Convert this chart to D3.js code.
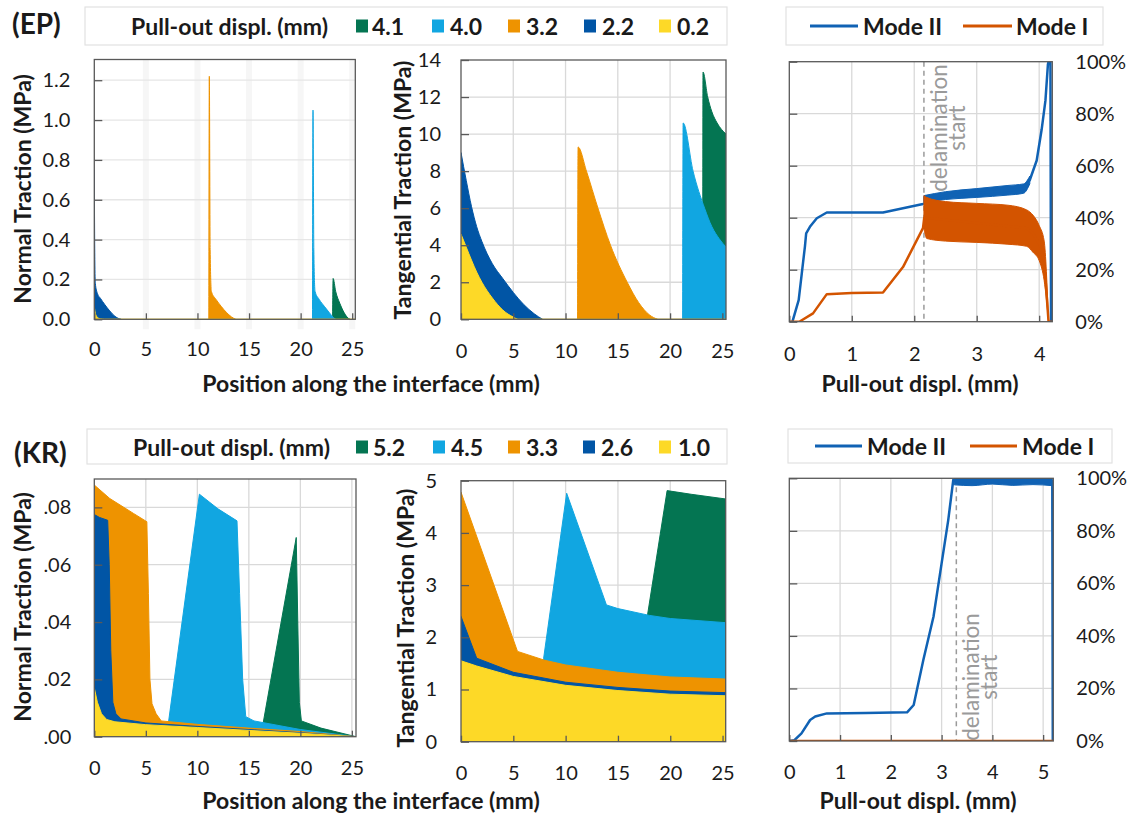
<!DOCTYPE html>
<html><head><meta charset="utf-8">
<script src="https://cdn.jsdelivr.net/npm/d3@7"></script>
<style>
body{margin:0;background:#fff;}
svg{display:block;font-family:Lato,"Open Sans",sans-serif;}
</style></head><body>
<svg id="c" width="1136" height="815"></svg>
<script>
// ---------------- DATA ----------------
const epLegendLabels = ["4.1","4.0","3.2","2.2","0.2"];
const krLegendLabels = ["5.2","4.5","3.3","2.6","1.0"];
const legendTitle = "Pull-out displ. (mm)";
const modeLabels = ["Mode II","Mode I"];

const posTicks = [0,5,10,15,20,25];
const epNormalTicks = [0,0.2,0.4,0.6,0.8,1.0,1.2];
const epTangTicks = [0,2,4,6,8,10,12,14];
const krNormalTicks = [0,0.02,0.04,0.06,0.08];
const krTangTicks = [0,1,2,3,4,5];
const pctTicks = [0,0.2,0.4,0.6,0.8,1.0];
const epDisplTicks = [0,1,2,3,4];
const krDisplTicks = [0,1,2,3,4,5];

// EP normal traction [position mm, MPa]
const epN_41 = [[23.1,0],[23.15,0.205],[23.4,0.14],[23.8,0.08],[24.2,0.035],[24.6,0.006],[24.8,0]];
const epN_40 = [[21.15,0],[21.2,1.05],[21.28,0.35],[21.4,0.14],[21.8,0.1],[22.3,0.065],[22.8,0.032],[23.2,0.008],[23.4,0]];
const epN_32 = [[11.1,0],[11.15,1.22],[11.23,0.35],[11.35,0.14],[11.8,0.1],[12.3,0.065],[12.8,0.035],[13.3,0.012],[13.7,0]];
const epN_22 = [[0,0.75],[0.05,0.3],[0.1,0.18],[0.3,0.13],[0.6,0.105],[1.0,0.075],[1.5,0.042],[2.0,0.015],[2.4,0.003],[2.6,0]];
const epN_02 = [[0,0.065],[0.1,0.03],[0.3,0.01],[0.6,0.002],[1,0],[25.3,0]];

// EP tangential traction
const epT_41 = [[23.13,0],[23.15,13.35],[23.6,12.0],[24.0,11.2],[24.5,10.6],[25.35,10.0]];
const epT_40 = [[21.2,0],[21.25,10.6],[22.2,8.0],[23.3,6.0],[24.0,5.0],[24.7,4.35],[25.35,3.9]];
const epT_32 = [[11.15,0],[11.2,9.3],[12.0,8.0],[13.1,6.0],[14.3,4.0],[15.9,2.0],[17.0,0.9],[18.0,0.25],[18.8,0]];
const epT_22 = [[0,9.0],[0.5,7.5],[1,6.1],[1.5,5.0],[2,4.2],[3,3.0],[4,2.2],[5,1.45],[6,0.8],[7,0.3],[7.8,0]];
const epT_02 = [[0,4.6],[0.5,3.9],[1,3.2],[1.5,2.55],[2,2.0],[3,1.15],[4,0.5],[5,0.12],[5.5,0],[25.35,0]];

// EP mode ratio [displ mm, fraction]
const epModeII = [[0.05,0],[0.15,0.083],[0.2,0.186],[0.25,0.289],[0.27,0.34],[0.33,0.365],[0.44,0.398],[0.6,0.42],[1.5,0.42],[2.14,0.453],[2.5,0.485],[3.0,0.495],[3.5,0.505],[3.75,0.512],[3.85,0.545],[3.96,0.62],[4.04,0.74],[4.1,0.85],[4.14,0.99],[4.15,1.0],[4.18,1.0],[4.19,0],[4.21,0]];
const epModeIIBandX = [2.155,2.5,3.0,3.5,3.75,3.85];
const epModeIIBandHi = [0.485,0.5,0.512,0.524,0.53,0.56];
const epModeIIBandLo = [0.458,0.47,0.478,0.487,0.494,0.53];
const epModeI = [[0,0],[0.16,0],[0.38,0.032],[0.6,0.106],[1.0,0.11],[1.5,0.112],[1.82,0.21],[2.14,0.36],[2.16,0.40],[3.0,0.38],[3.8,0.36],[3.9,0.34],[4.0,0.3],[4.08,0.235],[4.15,0],[4.21,0]];
const epModeIBandX = [2.155,2.2,2.5,3.0,3.5,3.8,3.9,4.0,4.08,4.15];
const epModeIBandHi = [0.485,0.478,0.462,0.455,0.448,0.43,0.41,0.37,0.31,0.0];
const epModeIBandLo = [0.36,0.32,0.31,0.305,0.298,0.29,0.267,0.235,0.158,0.0];
const epDelam = 2.155;

// KR normal traction
const krN_52 = [[16.3,0],[16.4,0.005],[19.6,0.0695],[19.75,0.04],[19.9,0.012],[20.1,0.0055],[22,0.003],[25.4,0]];
const krN_45 = [[7.1,0],[7.2,0.005],[10.2,0.0846],[12,0.0795],[13.85,0.0753],[14.1,0.05],[14.4,0.02],[14.7,0.007],[15.5,0.0055],[20,0.0025],[25.4,0]];
const krN_33 = [[0,0.0878],[1.5,0.0831],[3.8,0.0779],[5.1,0.075],[5.25,0.05],[5.4,0.02],[5.6,0.0115],[6.0,0.008],[6.5,0.0055],[10,0.0043],[15,0.003],[20,0.0018],[25.4,0]];
const krN_26 = [[0,0.0775],[0.5,0.0765],[1.3,0.0755],[1.45,0.06],[1.6,0.03],[1.8,0.012],[2.1,0.008],[2.6,0.0062],[5,0.0048],[10,0.0036],[15,0.0025],[20,0.0014],[25.4,0]];
const krN_10 = [[0,0.017],[0.3,0.012],[0.7,0.008],[1.2,0.006],[2,0.0052],[5,0.0042],[10,0.0032],[15,0.0022],[20,0.0012],[25.4,0]];

// KR tangential traction
const krT_52 = [[17.8,0],[17.83,2.43],[19.7,4.81],[22,4.74],[25.3,4.65]];
const krT_45 = [[7.85,0],[7.9,1.6],[10.1,4.76],[13.9,2.62],[15,2.55],[18,2.42],[20,2.36],[25.3,2.28]];
const krT_33 = [[0,4.78],[5.4,1.73],[8,1.56],[10,1.47],[15,1.33],[20,1.24],[25.3,1.2]];
const krT_26 = [[0,2.4],[1.5,1.6],[5,1.33],[10,1.14],[15,1.04],[20,0.97],[25.3,0.94]];
const krT_10 = [[0,1.55],[1.5,1.45],[5,1.25],[10,1.08],[15,0.98],[20,0.91],[25.3,0.88]];

// KR mode ratio
const krModeII = [[0,0],[0.1,0.003],[0.24,0.029],[0.41,0.08],[0.51,0.093],[0.74,0.105],[1.5,0.107],[2.32,0.109],[2.45,0.137],[2.64,0.308],[2.84,0.473],[3.0,0.676],[3.13,0.84],[3.23,0.994],[3.25,0.99],[5.18,0.99],[5.19,0],[5.2,0]];
const krModeIIBandX = [3.25,3.6,4.0,4.4,4.8,5.18];
const krModeIIBandHi = [1.0,1.0,1.0,1.0,1.0,1.0];
const krModeIIBandLo = [0.975,0.972,0.978,0.973,0.976,0.972];
const krModeI = [[0,0],[5.2,0]];
const krDelam = 3.29;

// ---------------- STYLE ----------------
const seriesColors = ["#047552","#11A6E1","#EE9300","#0155A5","#FDD927"];
const modeColors = ["#1062B4","#D35400"];
const frameColor = "#595959", gridColor = "#d9d9d9", textColor = "#1a1a1a";
const TITLE = 23, TICK = 20;

const svg = d3.select("#c");

function makePanel(box, xMax, yMax){
  const [l,t,r,b] = box;
  const x = d3.scaleLinear().domain([0,xMax]).range([l,r]);
  const y = d3.scaleLinear().domain([0,yMax]).range([b,t]);
  const g = svg.append("g");
  const id = "clip"+Math.round(l)+"_"+Math.round(t);
  svg.append("clipPath").attr("id",id).append("rect").attr("x",l).attr("y",t).attr("width",r-l).attr("height",b-t);
  return {x,y,g,l,t,r,b,clip:"url(#"+id+")"};
}
function grid(P, xt, yt, wideV){
  xt.forEach(v=>{
    if(wideV) P.g.append("line").attr("x1",P.x(v)).attr("x2",P.x(v)).attr("y1",P.t).attr("y2",P.b+10).attr("stroke","#f6f6f6").attr("stroke-width",6);
    else P.g.append("line").attr("x1",P.x(v)).attr("x2",P.x(v)).attr("y1",P.t).attr("y2",P.b).attr("stroke",gridColor).attr("stroke-width",1.3);
  });
  yt.forEach(v=>P.g.append("line").attr("x1",P.l).attr("x2",P.r).attr("y1",P.y(v)).attr("y2",P.y(v)).attr("stroke",wideV?"#e6e6e6":gridColor).attr("stroke-width",1.3));
}
function frame(P){
  P.g.append("rect").attr("x",P.l).attr("y",P.t).attr("width",P.r-P.l).attr("height",P.b-P.t).attr("fill","none").attr("stroke",frameColor).attr("stroke-width",1.3);
}
function styleAxis(a){
  a.select(".domain").remove();
  a.attr("font-family",null).attr("font-size",null);
  a.selectAll("text").attr("font-size",TICK).attr("fill",textColor);
  a.selectAll("line").attr("stroke",frameColor).attr("stroke-width",1.3);
}
function xAxis(P, ticks, pad, fmt){
  P.g.append("g").attr("transform",`translate(0,${P.b})`)
   .call(d3.axisBottom(P.x).tickValues(ticks).tickSize(-6).tickPadding(pad).tickFormat(fmt||d3.format("d")))
   .call(styleAxis);
}
function yAxisLeft(P, ticks, pad, fmt, showLabels){
  P.g.append("g").attr("transform",`translate(${P.l},0)`)
   .call(d3.axisLeft(P.y).tickValues(ticks).tickSize(-8).tickPadding(pad).tickFormat(showLabels?fmt:()=>""))
   .call(styleAxis);
}
function yAxisRight(P, ticks, pad){
  P.g.append("g").attr("transform",`translate(${P.r},0)`)
   .call(d3.axisRight(P.y).tickValues(ticks).tickSize(0).tickPadding(pad).tickFormat(d3.format(".0%")))
   .call(styleAxis);
}
function areas(P, list, curve){
  const ar = d3.area().x(d=>P.x(d[0])).y0(P.y(0)).y1(d=>P.y(d[1])).curve(curve||d3.curveLinear);
  const gg = P.g.append("g").attr("clip-path",P.clip);
  list.forEach((s,i)=>gg.append("path").datum(s).attr("d",ar).attr("fill",seriesColors[i]).attr("stroke",seriesColors[i]).attr("stroke-width",1));
}
function band(P, xs, lo, hi, color){
  const rows = xs.map((v,i)=>[v,lo[i],hi[i]]);
  P.g.append("path").datum(rows).attr("clip-path",P.clip)
   .attr("d",d3.area().x(d=>P.x(d[0])).y0(d=>P.y(d[1])).y1(d=>P.y(d[2])).curve(d3.curveMonotoneX))
   .attr("fill",color).attr("stroke",color).attr("stroke-width",1);
}
function line(P, data, color, w){
  P.g.append("path").datum(data).attr("clip-path",P.clip)
   .attr("d",d3.line().x(d=>P.x(d[0])).y(d=>P.y(d[1])))
   .attr("fill","none").attr("stroke",color).attr("stroke-width",w).attr("stroke-linejoin","round");
}
function delam(P, xv, tx1, tx2, cy){
  P.g.append("line").attr("x1",P.x(xv)).attr("x2",P.x(xv)).attr("y1",P.t).attr("y2",P.b)
   .attr("stroke","#9a9a9a").attr("stroke-width",1.5).attr("stroke-dasharray","5,4");
  [["delamination",tx1],["start",tx2]].forEach(([s,xx])=>{
    P.g.append("text").attr("transform",`translate(${xx},${cy}) rotate(-90)`)
     .attr("text-anchor","middle").attr("dominant-baseline","central")
     .attr("font-size",22.5).attr("fill","#9a9a9a").text(s);
  });
}
function text(x,y,s,opt){
  const t = svg.append("text").attr("x",x).attr("y",y).text(s)
    .attr("font-size",opt.size||TITLE).attr("font-weight",opt.bold?"bold":"normal")
    .attr("fill",textColor).attr("text-anchor",opt.anchor||"start").attr("dominant-baseline","central");
  if(opt.rot) t.attr("transform",`rotate(-90,${x},${y})`);
  return t;
}
function swatchLegend(box, labelX, cy, labels, swX, txX){
  const [l,t,r,b]=box;
  svg.append("rect").attr("x",l).attr("y",t).attr("width",r-l).attr("height",b-t).attr("fill","#fff").attr("stroke","#e2e2e2").attr("stroke-width",1.2);
  text(labelX,cy,legendTitle,{bold:true});
  labels.forEach((lb,i)=>{
    svg.append("rect").attr("x",swX[i]).attr("y",cy-6.5).attr("width",12).attr("height",13).attr("fill",seriesColors[i]);
    text(txX[i],cy,lb,{bold:true});
  });
}
function modeLegend(box, cy, lines, txX){
  const [l,t,r,b]=box;
  svg.append("rect").attr("x",l).attr("y",t).attr("width",r-l).attr("height",b-t).attr("fill","#fff").attr("stroke","#e2e2e2").attr("stroke-width",1.2);
  modeLabels.forEach((lb,i)=>{
    svg.append("line").attr("x1",lines[i][0]).attr("x2",lines[i][1]).attr("y1",cy).attr("y2",cy).attr("stroke",modeColors[i]).attr("stroke-width",3);
    text(txX[i],cy,lb,{bold:true});
  });
}

// ---------------- TOP ROW (EP) ----------------
text(12,23,"(EP)",{bold:true,size:28});
swatchLegend([85,7,727,45],131,26,epLegendLabels,[356,432,508,584,659],[372,450,526,602,677]);
modeLegend([786,7,1103,45],26,[[810,858],[963,1012]],[863,1016]);

// EP normal
{
  const P = makePanel([94.3,59.5,355.3,319.3],25.3,1.304);
  grid(P,[5,10,15,20,25],[0.2,0.4,0.6,0.8,1.0,1.2],true);
  areas(P,[epN_41,epN_40,epN_32,epN_22,epN_02],d3.curveMonotoneX);
  frame(P);
  xAxis(P,posTicks,23);
  yAxisLeft(P,epNormalTicks,24,d3.format(".1f"),true);
  text(22,189,"Normal Traction (MPa)",{bold:true,rot:true,anchor:"middle"});
}
// EP tangential
{
  const P = makePanel([461,60,726,319.3],25.35,14);
  grid(P,[5,10,15,20],[2,4,6,8,10,12]);
  areas(P,[epT_41,epT_40,epT_32,epT_22,epT_02],d3.curveMonotoneX);
  frame(P);
  xAxis(P,posTicks,25);
  yAxisLeft(P,epTangTicks,20,d3.format("d"),true);
  text(402,190,"Tangential Traction (MPa)",{bold:true,rot:true,anchor:"middle"});
}
text(371,383,"Position along the interface (mm)",{bold:true,anchor:"middle"});
// EP modes
{
  const P = makePanel([789.3,61.7,1052.3,321.7],4.21,1);
  grid(P,[1,2,3,4],[0.2,0.4,0.6,0.8]);
  delam(P,epDelam,938,956,128);
  band(P,epModeIIBandX,epModeIIBandLo,epModeIIBandHi,modeColors[0]);
  line(P,epModeII,modeColors[0],2.5);
  band(P,epModeIBandX,epModeIBandLo,epModeIBandHi,modeColors[1]);
  line(P,epModeI,modeColors[1],2.5);
  frame(P);
  xAxis(P,epDisplTicks,25);
  yAxisLeft(P,pctTicks,0,null,false);
  yAxisRight(P,pctTicks,23);
  text(920,383,"Pull-out displ. (mm)",{bold:true,anchor:"middle"});
}

// ---------------- BOTTOM ROW (KR) ----------------
text(14,452,"(KR)",{bold:true,size:28});
swatchLegend([87,429,727,464],133,447,krLegendLabels,[356,433,508,583,659],[373,451,526,601,678]);
modeLegend([788,429,1112,463],446,[[815,862],[970,1017]],[867,1022]);

// KR normal
{
  const P = makePanel([94.3,479,356,736.7],25.4,0.0899);
  grid(P,[5,10,15,20,25],[0.02,0.04,0.06,0.08]);
  areas(P,[krN_52,krN_45,krN_33,krN_26,krN_10]);
  frame(P);
  xAxis(P,posTicks,24);
  yAxisLeft(P,krNormalTicks,23,v=>d3.format(".2f")(v).replace(/^0/,""),true);
  text(22,607,"Normal Traction (MPa)",{bold:true,rot:true,anchor:"middle"});
}
// KR tangential
{
  const P = makePanel([461,480.7,725.7,741.7],25.3,5);
  grid(P,[5,10,15,20],[1,2,3,4]);
  areas(P,[krT_52,krT_45,krT_33,krT_26,krT_10]);
  frame(P);
  xAxis(P,posTicks,24);
  yAxisLeft(P,krTangTicks,24,d3.format("d"),true);
  text(405,618,"Tangential Traction (MPa)",{bold:true,rot:true,anchor:"middle"});
}
text(371,800,"Position along the interface (mm)",{bold:true,anchor:"middle"});
// KR modes
{
  const P = makePanel([789.3,478.3,1053.3,741],5.2,1);
  grid(P,[1,2,3,4,5],[0.2,0.4,0.6,0.8]);
  delam(P,krDelam,970,988,677);
  band(P,krModeIIBandX,krModeIIBandLo,krModeIIBandHi,modeColors[0]);
  line(P,krModeII,modeColors[0],2.5);
  line(P,krModeI,modeColors[1],2.5);
  frame(P);
  xAxis(P,krDisplTicks,24);
  yAxisLeft(P,pctTicks,0,null,false);
  yAxisRight(P,pctTicks,23);
  text(918,800,"Pull-out displ. (mm)",{bold:true,anchor:"middle"});
}
</script>
</body></html>
